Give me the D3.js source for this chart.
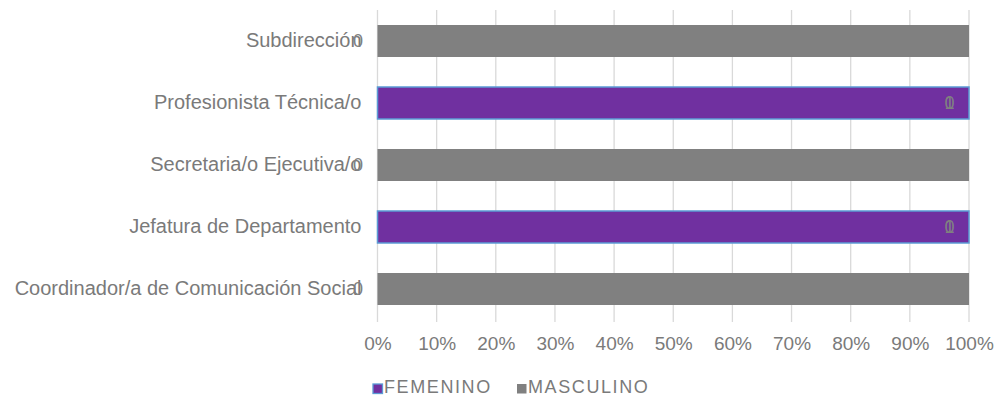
<!DOCTYPE html>
<html>
<head>
<meta charset="utf-8">
<script src="https://cdn.jsdelivr.net/npm/d3@7"></script>
<style>
  html, body { margin: 0; padding: 0; background: #fff; }
  svg { display: block; font-family: "Liberation Sans", Arial, sans-serif; }
</style>
</head>
<body>
<svg id="chart" width="999" height="397"></svg>
<script>
// Puestos (de arriba hacia abajo)
const categories = [
  "Subdirección",
  "Profesionista Técnica/o",
  "Secretaria/o Ejecutiva/o",
  "Jefatura de Departamento",
  "Coordinador/a de Comunicación Social"
];
// Número de personas por sexo en cada puesto
const femenino  = [0, 1, 0, 1, 0];
const masculino = [1, 0, 1, 0, 1];
const seriesNames = ["FEMENINO", "MASCULINO"];
const tickValues = [0, 0.1, 0.2, 0.3, 0.4, 0.5, 0.6, 0.7, 0.8, 0.9, 1];

const colors = { FEMENINO: "#7030a0", MASCULINO: "#808080" };
const strokes = { FEMENINO: "#5b9bd5", MASCULINO: "none" };
const textColor = "#7a7a7a";

const svg = d3.select("#chart");
const plot = { left: 377.5, right: 969, top: 10, bottom: 320 };

const rows = categories.map((c, i) => ({ category: c, FEMENINO: femenino[i], MASCULINO: masculino[i] }));
const stacked = d3.stack().keys(seriesNames).offset(d3.stackOffsetExpand)(rows);

const x = d3.scaleLinear().domain([0, 1]).range([plot.left, plot.right]);
const y = d3.scaleBand().domain(categories).range([plot.top, plot.bottom])
  .paddingInner(0.4839).paddingOuter(0.242);

// Líneas de cuadrícula verticales
svg.append("g").selectAll("line").data(tickValues).join("line")
  .attr("x1", d => x(d)).attr("x2", d => x(d))
  .attr("y1", plot.top).attr("y2", plot.bottom + 2)
  .attr("stroke", "#d9d9d9").attr("stroke-width", 1.3);

// Eje X con porcentajes
const xAxis = d3.axisBottom(x).tickValues(tickValues).tickFormat(d3.format(".0%")).tickSize(0).tickPadding(0);
const gx = svg.append("g").attr("transform", `translate(0,${plot.bottom + 30})`).call(xAxis);
gx.select(".domain").remove();
gx.selectAll("text").attr("fill", textColor).attr("font-size", 19)
  .attr("font-family", "\"Liberation Sans\", Arial, sans-serif").attr("dy", "0");

// Etiquetas de categoría
const yAxis = d3.axisLeft(y).tickSize(0).tickPadding(16);
const gy = svg.append("g").attr("transform", `translate(${plot.left},0)`).call(yAxis);
gy.select(".domain").remove();
gy.selectAll("text").attr("fill", textColor).attr("font-size", 20)
  .attr("font-family", "\"Liberation Sans\", Arial, sans-serif");

// Barras apiladas al 100%
stacked.forEach(s => {
  svg.append("g").selectAll("rect").data(s).join("rect")
    .attr("x", d => x(d[0]))
    .attr("y", d => y(d.data.category))
    .attr("width", d => x(d[1]) - x(d[0]))
    .attr("height", y.bandwidth())
    .attr("fill", colors[s.key])
    .attr("stroke", d => (d[1] > d[0] ? strokes[s.key] : "none"))
    .attr("stroke-width", 1.5);
});

// Etiquetas de datos
stacked.forEach(s => {
  svg.append("g").selectAll("text").data(s).join("text")
    .attr("x", d => d.data[s.key] > 0 ? x(d[1]) - 19.5 : x(d[0]) - 19.5)
    .attr("y", d => y(d.data.category) + y.bandwidth() / 2)
    .attr("dy", "0.35em")
    .attr("text-anchor", "middle")
    .attr("font-size", 18)
    .attr("fill", "#808080")
    .text(d => d.data[s.key]);
});

// Leyenda
const legendItems = [
  { name: "FEMENINO", x: 373 },
  { name: "MASCULINO", x: 517 }
];
const lg = svg.append("g");
legendItems.forEach(it => {
  lg.append("rect").attr("x", it.x).attr("y", 384).attr("width", 9.5).attr("height", 9.5)
    .attr("fill", colors[it.name])
    .attr("stroke", strokes[it.name]).attr("stroke-width", 1.3);
  lg.append("text").attr("x", it.x + 11).attr("y", 393)
    .attr("font-size", 18).attr("letter-spacing", 1.6)
    .attr("fill", textColor).text(it.name);
});
</script>
</body>
</html>
